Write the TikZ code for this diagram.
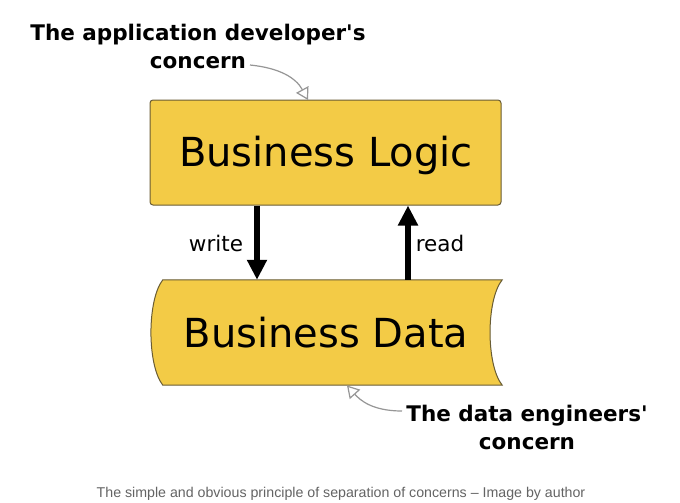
\documentclass[tikz,border=0pt]{standalone}
\usepackage{fontspec}
\setmainfont{DejaVu Sans}[Ligatures=TeXOff]
\newfontfamily\capfont{Liberation Sans}
\usetikzlibrary{arrows.meta}
\definecolor{boxfill}{RGB}{243,203,70}
\definecolor{boxline}{RGB}{105,92,52}
\definecolor{annline}{RGB}{150,150,150}
\definecolor{capgray}{RGB}{100,100,100}
\tikzset{
  boxlabel/.style={font=\fontsize{40}{48}\selectfont, anchor=base, inner sep=0pt},
  flowlabel/.style={font=\fontsize{21.5}{24}\selectfont, anchor=base, inner sep=0pt},
  annot/.style={font=\bfseries\fontsize{21.5}{28}\selectfont, align=center, inner sep=0pt},
  flowarrow/.style={line width=6.5pt, -{Triangle[width=19pt,length=20pt]}},
  annarrow/.style={draw=annline, line width=1.2pt, -{Triangle[open,width=14pt,length=12pt,fill=white]}},
}
\begin{document}
\begin{tikzpicture}[x=1pt,y=-1pt]
\useasboundingbox[fill=white] (0,0) rectangle (680,503);
% Business Logic box
\node[draw=boxline, fill=boxfill, line width=1pt, rounded corners=3pt,
      minimum width=351pt, minimum height=105pt, inner sep=0pt] (bl) at (325.5,152.5) {};
\node[boxlabel] (bltext) at (326,166) {Business Logic};
% Business Data shape
\node[minimum width=339pt, minimum height=105pt, inner sep=0pt] (bd) at (332.5,332.5) {};
\draw[boxline, fill=boxfill, line width=1pt]
  (bd.north west) -- (bd.north east)
  .. controls (486,300) and (486,365) .. (bd.south east)
  -- (bd.south west)
  .. controls (147,365) and (147,300) .. (bd.north west) -- cycle;
\node[boxlabel] (bdtext) at (326,347) {Business Data};
% write / read arrows
\coordinate (wx) at (257,0);
\coordinate (rx) at (408,0);
\draw[flowarrow] (bl.south -| wx) -- (bd.north -| wx);
\draw[flowarrow] (bd.north -| rx) -- (bl.south -| rx);
\node[flowlabel] (write) at (216,251.5) {write};
\node[flowlabel] (read) at (440,251.5) {read};
% annotations
\node[annot] (devann) at (198,46) {The application developer's\\concern};
\node[annot] (engann) at (527,427) {The data engineers'\\concern};
\coordinate (devs) at (250,65);
\coordinate (deve) at (308,100);
\coordinate (engs) at (402,411);
\coordinate (enge) at (347,385.5);
\draw[annarrow] (devs) .. controls (280,68) and (296,78) .. (deve);
\draw[annarrow] (engs) .. controls (372,411) and (360,400) .. (enge);
% caption
\node[font=\capfont\fontsize{14.2}{17}\selectfont, text=capgray, anchor=base, inner sep=0pt] (cap) at (341,497)
  {The simple and obvious principle of separation of concerns – Image by author};
\end{tikzpicture}
\end{document}
